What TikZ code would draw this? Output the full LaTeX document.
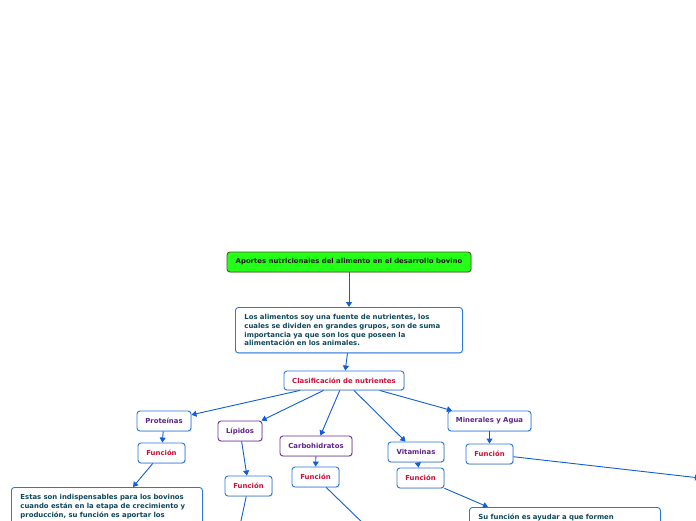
\documentclass[tikz,border=0pt]{standalone}
\usepackage{fontspec}
\setmainfont{DejaVu Sans}
\usetikzlibrary{arrows.meta, shadows}
\definecolor{mapBlue}{RGB}{40,118,222}
\definecolor{mapLine}{RGB}{18,92,214}
\definecolor{mapPurple}{RGB}{112,48,160}
\definecolor{mapRed}{RGB}{204,16,56}
\definecolor{mapText}{RGB}{96,36,140}
\definecolor{mapTeal}{RGB}{12,72,92}
\definecolor{mapGreen}{RGB}{36,255,24}
\definecolor{mapOlive}{RGB}{84,84,40}

\begin{document}
\begin{tikzpicture}[x=1pt, y=-1pt,
  box/.style={rounded corners=3pt, draw=mapBlue, line width=0.9pt, fill=white,
              minimum height=20pt, inner sep=2pt,
              font=\fontsize{6.9}{8.7}\selectfont\bfseries,
              drop shadow={shadow xshift=0.8pt, shadow yshift=-0.8pt, opacity=0.25}},
  topic/.style={box, text=mapText},
  group/.style={box, draw=mapPurple, text=mapText},
  func/.style={box, text=mapRed, minimum width=47pt},
  note/.style={box, anchor=north west, text=mapTeal, align=left,
               inner xsep=9pt, inner ysep=7pt},
  link/.style={-{Triangle[length=5pt,width=6pt]}, mapLine, line width=0.9pt}]
  \useasboundingbox (0,0) rectangle (696,520);
  \clip (0,0) rectangle (696,520);
  % root and description
  \node[box, draw=mapOlive, fill=mapGreen, text=black!70!mapOlive,
        minimum width=244pt] (root) at (349,262)
        {Aportes nutricionales del alimento en el desarrollo bovino};
  \node[note, text width=209pt] (intro) at (235,307)
        {Los alimentos soy una fuente de nutrientes, los\\
         cuales se dividen en grandes grupos, son de suma\\
         importancia ya que son los que poseen la\\
         alimentación en los animales.};
  \node[box, text=mapRed, minimum width=120pt, minimum height=19pt] (clasif)
        at (344,380.5) {Clasificación de nutrientes};
  % nutrient groups
  \node[topic, minimum width=54pt] (prot) at (164,421) {Proteínas};
  \node[group, minimum width=44pt] (lip) at (240,431) {Lípidos};
  \node[group, minimum width=72pt] (carb) at (316,446) {Carbohidratos};
  \node[topic, minimum width=56pt] (vit) at (416,452) {Vitaminas};
  \node[topic, minimum width=83pt] (miner) at (489.5,421) {Minerales y Agua};
  % functions
  \node[func] (fprot) at (161.5,453) {Función};
  \node[func] (flip) at (248.5,486) {Función};
  \node[func] (fcarb) at (315.5,477) {Función};
  \node[func] (fvit) at (420.5,478) {Función};
  \node[func] (fmin) at (489.5,454) {Función};
  % details
  \node[note, text width=173pt, text depth=30pt] (tprot) at (11,487)
        {Estas son indispensables para los bovinos\\
         cuando están en la etapa de crecimiento y\\
         producción, su función es aportar los};
  \node[note, text width=173pt, text depth=30pt] (tvit) at (469,507)
        {Su función es ayudar a que formen};
  \coordinate (outmin) at (700,478);
  \coordinate (outlip) at (239,530);
  \coordinate (outcarb) at (370,530);
  % connectors
  \draw[link] (root) -- (intro.north -| root);
  \draw[link] ([xshift=-1.5pt]intro.south) -- (clasif);
  \foreach \g in {prot, lip, carb, vit, miner}
    \draw[link] (clasif) -- (\g);
  \draw[link] (prot) -- (fprot);
  \draw[link] (lip) -- (flip);
  \draw[link] (carb) -- (fcarb);
  \draw[link] (vit) -- (fvit);
  \draw[link] (miner) -- (fmin);
  \draw[link] (fprot) -- ([xshift=122pt]tprot.north west);
  \draw[link] (fvit) -- ([xshift=19pt]tvit.north west);
  \draw[link] (fmin) -- (outmin);
  \draw[link] (flip) -- (outlip);
  \draw[link] (fcarb) -- (outcarb);
\end{tikzpicture}
\end{document}
